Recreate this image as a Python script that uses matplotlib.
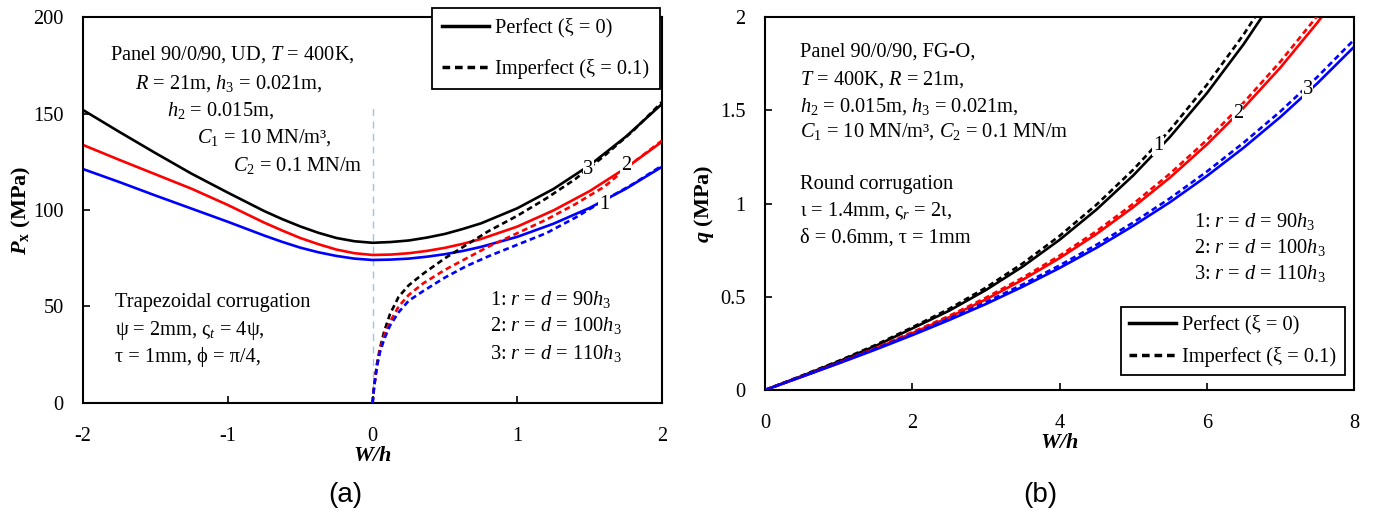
import numpy as np
import matplotlib.pyplot as plt
from matplotlib.lines import Line2D
from matplotlib.ticker import FuncFormatter

plt.rcParams['font.family'] = 'Liberation Serif'
plt.rcParams['axes.unicode_minus'] = False
plt.rcParams['mathtext.fontset'] = 'custom'
plt.rcParams['mathtext.rm'] = 'Liberation Serif'
plt.rcParams['mathtext.it'] = 'Liberation Serif:italic'
plt.rcParams['mathtext.bf'] = 'Liberation Serif:bold'
plt.rcParams['mathtext.bfit'] = 'Liberation Serif:italic:bold'

# (a) trapezoidal corrugation, P_x vs W/h
w_perf = [-2, -1.75, -1.5, -1.25, -1, -0.75, -0.625, -0.5, -0.375, -0.25, -0.125, 0,
          0.125, 0.25, 0.375, 0.5, 0.625, 0.75, 1, 1.25, 1.5, 1.75, 2]
px_perf_1 = [121.2, 114.5, 107.5, 100.7, 93.9, 86.8, 83.5, 80.5, 78.1, 76.2, 74.8, 74.1,
             74.3, 74.8, 75.8, 77.1, 78.8, 80.9, 86.1, 92.9, 101.1, 111.0, 122.4]
px_perf_2 = [133.7, 126.0, 118.5, 111.0, 102.6, 93.5, 89.4, 85.5, 82.3, 79.5, 77.6, 76.7,
             76.9, 77.6, 78.8, 80.4, 82.5, 85.0, 91.4, 99.8, 109.8, 121.8, 135.4]
px_perf_3 = [151.8, 140.5, 129.5, 118.8, 109.0, 99.5, 95.3, 91.5, 88.2, 85.5, 83.8, 83.0,
             83.4, 84.2, 85.7, 87.6, 90.2, 93.1, 100.9, 110.9, 123.2, 138.0, 155.0]

w_imp = [0, 0.01, 0.03, 0.05, 0.08, 0.12, 0.18, 0.25, 0.35, 0.5,
         0.65, 0.8, 1.0, 1.2, 1.4, 1.6, 1.8, 2.0]
px_imp_1 = [0, 8, 19, 26, 33, 40, 47, 53, 58, 65, 71, 76, 82, 88, 96, 105, 113.5, 123]
px_imp_2 = [0, 8, 19, 27, 35, 42, 50, 56, 62, 69, 75, 81, 88, 95, 103, 112, 124.5, 136]
px_imp_3 = [0, 8, 20, 28, 37, 46, 55, 61, 67, 75, 82, 89, 97, 106, 116, 128, 141, 156]

# (b) round corrugation, q vs W/h
w_b = [0, 0.5, 1, 1.5, 2, 2.5, 3, 3.5, 4, 4.5, 5, 5.5, 6, 6.5, 7, 7.5, 8]
q_perf_1 = [0, 0.075, 0.153, 0.236, 0.330, 0.425, 0.536, 0.662, 0.805,
            0.967, 1.150, 1.357, 1.591, 1.854, 2.148]
q_perf_2 = [0, 0.0716, 0.1448, 0.221, 0.305, 0.390, 0.486, 0.591, 0.707,
            0.836, 0.980, 1.139, 1.316, 1.513, 1.729, 1.969, 2.23]
q_perf_3 = [0, 0.0708, 0.1427, 0.2166, 0.294, 0.375, 0.461, 0.554, 0.654,
            0.762, 0.880, 1.007, 1.147, 1.299, 1.464, 1.644, 1.840]
q_imp_1 = [0, 0.077, 0.156, 0.241, 0.336, 0.435, 0.549, 0.679, 0.826,
           0.993, 1.181, 1.394, 1.636, 1.906, 2.21]
q_imp_2 = [0, 0.0727, 0.147, 0.225, 0.310, 0.397, 0.495, 0.602, 0.720,
           0.851, 0.998, 1.160, 1.340, 1.541, 1.761, 2.005, 2.27]
q_imp_3 = [0, 0.0722, 0.1456, 0.221, 0.300, 0.383, 0.471, 0.566, 0.668,
           0.778, 0.898, 1.028, 1.171, 1.326, 1.494, 1.678, 1.878]

colors = ['blue', 'red', 'black']
lw = 1.9
dash = (0, (2.2, 1.4))
fs = 14.7

fig = plt.figure(figsize=(13.73, 5.11), dpi=100)
ax1 = fig.add_axes([0.0605, 0.2114, 0.4217, 0.7553])
ax2 = fig.add_axes([0.5572, 0.2368, 0.4290, 0.7299])

# ---- panel (a)
ax1.plot([0, 0], [0, 154], color='#9dc3e6', lw=1, ls=(0, (5, 4)), zorder=1)
for c, ys in zip(colors, [px_perf_1, px_perf_2, px_perf_3]):
    ax1.plot(w_perf, ys, color=c, lw=lw, zorder=2)
for c, ys in zip(['black', 'red', 'blue'], [px_imp_3, px_imp_2, px_imp_1]):
    ax1.plot(w_imp, ys, color=c, lw=lw, ls=dash, zorder=3)

box = dict(fc='white', ec='none', pad=0.5)
ax1.text(1.49, 121, '3', fontsize=fs, ha='center', va='center', bbox=box, zorder=5)
ax1.text(1.75, 123, '2', fontsize=fs, ha='center', va='center', bbox=box, zorder=5)
ax1.text(1.60, 103, '1', fontsize=fs, ha='center', va='center', bbox=box, zorder=5)

ax1.set_xlim(-2, 2)
ax1.set_ylim(0, 200)
ax1.set_xticks([-2, -1, 0, 1, 2])
ax1.set_yticks([0, 50, 100, 150, 200])
ax1.set_xlabel(r'$\mathbfit{W/h}$', fontsize=16, labelpad=1)
ax1.set_ylabel(r'$\mathbfit{P}_\mathbf{x}$ (MPa)', fontsize=16, fontweight='bold', labelpad=0)

H = 511.0
W = 1373.0
ftxt = lambda x, y, s, **kw: fig.text(x / W, 1 - y / H, s, fontsize=fs, ha='left', va='center', **kw)

ftxt(110, 55, r'Panel 90/0/90, UD, $T$ = 400K,')
ftxt(135, 84, r'$R$ = 21m, $h_3$ = 0.021m,')
ftxt(167, 111, r'$h_2$ = 0.015m,')
ftxt(197, 138, r'$C_1$ = 10 MN/m³,')
ftxt(233, 165, r'$C_2$ = 0.1 MN/m')
ftxt(115, 302, 'Trapezoidal corrugation')
ftxt(115, 330, r'ψ = 2mm, ς$_t$ = 4ψ,')
ftxt(115, 357, r'τ = 1mm, ϕ = π/4,')
ftxt(490, 299, r'1: $r$ = $d$ = 90$h_3$')
ftxt(490, 326, r'2: $r$ = $d$ = 100$h_3$')
ftxt(490, 353, r'3: $r$ = $d$ = 110$h_3$')

# ---- panel (b)
for c, ys in zip(['black', 'red', 'blue'], [q_perf_1, q_perf_2, q_perf_3]):
    ax2.plot(w_b[:len(ys)], ys, color=c, lw=lw, zorder=2)
for c, ys in zip(['black', 'red', 'blue'], [q_imp_1, q_imp_2, q_imp_3]):
    ax2.plot(w_b[:len(ys)], ys, color=c, lw=lw, ls=dash, zorder=3)

ax2.text(5.34, 1.31, '1', fontsize=fs, ha='center', va='center', bbox=box, zorder=5)
ax2.text(6.42, 1.48, '2', fontsize=fs, ha='center', va='center', bbox=box, zorder=5)
ax2.text(7.37, 1.61, '3', fontsize=fs, ha='center', va='center', bbox=box, zorder=5)

ax2.set_xlim(0, 8)
ax2.set_ylim(0, 2)
ax2.set_xticks([0, 2, 4, 6, 8])
ax2.set_yticks([0, 0.5, 1, 1.5, 2])
ax2.yaxis.set_major_formatter(FuncFormatter(lambda v, p: '%g' % v))
ax2.set_xlabel(r'$\mathbfit{W/h}$', fontsize=16, labelpad=1)
ax2.set_ylabel(r'$\mathbfit{q}$ (MPa)', fontsize=16, fontweight='bold', labelpad=3)

ftxt(800, 52, 'Panel 90/0/90, FG-O,')
ftxt(800, 80, r'$T$ = 400K, $R$ = 21m,')
ftxt(800, 107, r'$h_2$ = 0.015m, $h_3$ = 0.021m,')
ftxt(800, 132, r'$C_1$ = 10 MN/m³, $C_2$ = 0.1 MN/m')
ftxt(800, 185, 'Round corrugation')
ftxt(800, 211, r'ι = 1.4mm, ς$_r$ = 2ι,')
ftxt(800, 238, r'δ = 0.6mm, τ = 1mm')
ftxt(1194, 222, r'1: $r$ = $d$ = 90$h_3$')
ftxt(1194, 248, r'2: $r$ = $d$ = 100$h_3$')
ftxt(1194, 273, r'3: $r$ = $d$ = 110$h_3$')

for ax in (ax1, ax2):
    ax.tick_params(direction='in', labelsize=fs, length=5, width=1.2)
    ax.tick_params(axis='x', pad=17)
    ax.tick_params(axis='y', pad=14)
    for sp in ax.spines.values():
        sp.set_linewidth(1.5)

handles = [Line2D([], [], color='black', lw=2.5),
           Line2D([], [], color='black', lw=2.5, ls=dash)]
labels = ['Perfect (ξ = 0)', 'Imperfect (ξ = 0.1)']

leg1 = ax1.legend(handles, labels, loc='upper left', bbox_to_anchor=(432 / W, 1 - 8 / H),
                  bbox_transform=fig.transFigure, fancybox=False, edgecolor='black',
                  framealpha=1, borderaxespad=0, handlelength=2.3, handletextpad=0.3,
                  labelspacing=1.05, borderpad=0.5, fontsize=fs)
leg1.get_frame().set_linewidth(1.3)
leg2 = ax2.legend(handles, labels, loc='upper left', bbox_to_anchor=(1121 / W, 1 - 307 / H),
                  bbox_transform=fig.transFigure, fancybox=False, edgecolor='black',
                  framealpha=1, borderaxespad=0, handlelength=2.3, handletextpad=0.3,
                  labelspacing=0.6, borderpad=0.4, fontsize=fs)
leg2.get_frame().set_linewidth(1.3)

fig.text(345 / W, 1 - 495 / H, '(a)', ha='center', va='center', family='Liberation Sans', fontsize=20)
fig.text(1040 / W, 1 - 495 / H, '(b)', ha='center', va='center', family='Liberation Sans', fontsize=20)

fig.savefig('out.png', dpi=100)
